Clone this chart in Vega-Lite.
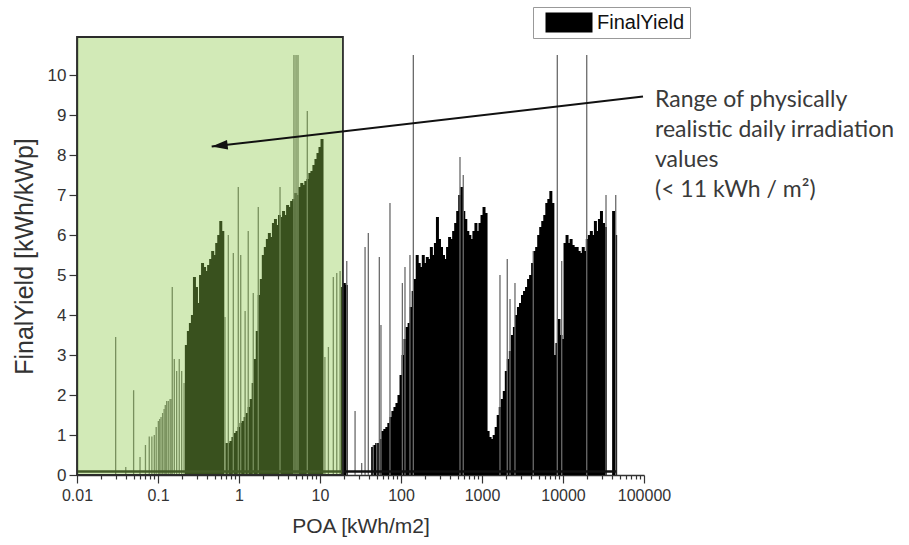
{
  "$schema": "https://vega.github.io/schema/vega-lite/v6.json",
  "width": 567,
  "height": 438,
  "autosize": {"type": "none"},
  "padding": {"left": 77, "top": 37, "right": 265, "bottom": 70},
  "background": "white",
  "config": {"view": {"stroke": null}, "axis": {"grid": false}, "font": "Liberation Sans"},
  "datasets": {
    "dense": [
      {"poa":0.2239,"fy":3.25},{"poa":0.2371,"fy":3.6},{"poa":0.2512,"fy":3.8},{"poa":0.2661,"fy":4.0},{"poa":0.2818,"fy":4.95},{"poa":0.2985,"fy":4.7},{"poa":0.3162,"fy":4.3},{"poa":0.335,"fy":5.0},{"poa":0.3548,"fy":5.3},{"poa":0.3758,"fy":5.2},{"poa":0.3981,"fy":5.1},{"poa":0.4217,"fy":5.25},{"poa":0.4467,"fy":5.4},{"poa":0.4732,"fy":5.6},{"poa":0.5012,"fy":5.5},{"poa":0.5309,"fy":5.8},{"poa":0.5623,"fy":6.0},{"poa":0.5957,"fy":6.35},{"poa":0.631,"fy":6.1},
      {"poa":0.7079,"fy":0.8},{"poa":0.7499,"fy":0.8},{"poa":0.7943,"fy":0.85},{"poa":0.8414,"fy":0.95},{"poa":0.8913,"fy":1.05},{"poa":0.9441,"fy":1.1},{"poa":1.0,"fy":1.2},{"poa":1.059,"fy":1.3},{"poa":1.122,"fy":1.35},{"poa":1.189,"fy":1.45},{"poa":1.259,"fy":1.55},{"poa":1.334,"fy":1.7},{"poa":1.413,"fy":1.9},{"poa":1.496,"fy":2.3},{"poa":1.585,"fy":2.9},{"poa":1.679,"fy":3.6},{"poa":1.778,"fy":4.5},{"poa":1.884,"fy":4.9},{"poa":1.995,"fy":5.5},{"poa":2.113,"fy":5.7},{"poa":2.239,"fy":5.9},{"poa":2.371,"fy":6.05},{"poa":2.512,"fy":5.95},{"poa":2.661,"fy":6.3},{"poa":2.818,"fy":6.4},{"poa":2.985,"fy":6.25},{"poa":3.162,"fy":6.5},{"poa":3.35,"fy":6.45},{"poa":3.548,"fy":6.6},{"poa":3.758,"fy":6.5},{"poa":3.981,"fy":6.75},{"poa":4.217,"fy":6.7},{"poa":4.467,"fy":6.85},{"poa":4.732,"fy":6.9},{"poa":5.012,"fy":7.05},{"poa":5.309,"fy":7.0},{"poa":5.623,"fy":7.2},{"poa":5.957,"fy":7.3},{"poa":6.31,"fy":7.25},{"poa":6.683,"fy":7.35},{"poa":7.079,"fy":7.4},{"poa":7.499,"fy":7.55},{"poa":7.943,"fy":7.6},{"poa":8.414,"fy":7.75},{"poa":8.913,"fy":7.9},{"poa":9.441,"fy":8.05},{"poa":10.0,"fy":8.2},{"poa":10.59,"fy":8.4},
      {"poa":18.84,"fy":4.7},{"poa":19.95,"fy":4.8},{"poa":21.13,"fy":4.75},
      {"poa":44.67,"fy":0.7},{"poa":47.32,"fy":0.75},{"poa":50.12,"fy":0.8},{"poa":53.09,"fy":0.8},{"poa":56.23,"fy":0.9},{"poa":59.57,"fy":1.1},{"poa":63.1,"fy":1.15},{"poa":66.83,"fy":1.2},{"poa":70.79,"fy":1.3},{"poa":74.99,"fy":1.45},{"poa":79.43,"fy":1.6},{"poa":84.14,"fy":1.7},{"poa":89.13,"fy":1.8},{"poa":94.41,"fy":2.0},{"poa":100,"fy":2.5},{"poa":105.9,"fy":3.0},{"poa":112.2,"fy":3.4},{"poa":118.9,"fy":3.7},{"poa":125.9,"fy":3.8},{"poa":133.4,"fy":4.2},{"poa":141.3,"fy":4.6},{"poa":149.6,"fy":4.9},{"poa":158.5,"fy":5.5},{"poa":167.9,"fy":5.3},{"poa":177.8,"fy":5.2},{"poa":188.4,"fy":5.5},{"poa":199.5,"fy":5.3},{"poa":211.3,"fy":5.45},{"poa":223.9,"fy":5.4},{"poa":237.1,"fy":5.7},{"poa":251.2,"fy":5.5},{"poa":266.1,"fy":5.8},{"poa":281.8,"fy":6.45},{"poa":298.5,"fy":5.9},{"poa":316.2,"fy":5.7},{"poa":335,"fy":5.5},{"poa":354.8,"fy":5.4},{"poa":375.8,"fy":5.7},{"poa":398.1,"fy":5.95},{"poa":421.7,"fy":5.9},{"poa":446.7,"fy":6.1},{"poa":473.2,"fy":6.3},{"poa":501.2,"fy":6.6},{"poa":530.9,"fy":7.0},{"poa":562.3,"fy":7.2},{"poa":595.7,"fy":6.6},{"poa":631,"fy":6.4},{"poa":668.3,"fy":6.1},{"poa":707.9,"fy":6.0},{"poa":749.9,"fy":5.9},{"poa":794.3,"fy":6.1},{"poa":841.4,"fy":6.3},{"poa":891.3,"fy":6.1},{"poa":944.1,"fy":6.3},{"poa":1000,"fy":6.5},{"poa":1059,"fy":6.7},{"poa":1122,"fy":6.55},
      {"poa":1189,"fy":1.1},{"poa":1259,"fy":0.95},{"poa":1334,"fy":0.9},{"poa":1413,"fy":1.0},{"poa":1496,"fy":1.2},{"poa":1585,"fy":1.5},{"poa":1679,"fy":1.7},{"poa":1778,"fy":1.9},{"poa":1884,"fy":2.1},{"poa":1995,"fy":2.6},{"poa":2113,"fy":2.9},{"poa":2239,"fy":3.1},{"poa":2371,"fy":3.5},{"poa":2512,"fy":3.7},{"poa":2661,"fy":4.0},{"poa":2818,"fy":4.2},{"poa":2985,"fy":4.3},{"poa":3162,"fy":4.5},{"poa":3350,"fy":4.6},{"poa":3548,"fy":4.7},{"poa":3758,"fy":4.9},{"poa":3981,"fy":5.0},{"poa":4217,"fy":5.3},{"poa":4467,"fy":5.6},{"poa":4732,"fy":5.7},{"poa":5012,"fy":6.0},{"poa":5309,"fy":6.2},{"poa":5623,"fy":6.35},{"poa":5957,"fy":6.5},{"poa":6310,"fy":6.8},{"poa":6683,"fy":6.9},{"poa":7079,"fy":7.1},{"poa":7499,"fy":6.8},{"poa":7943,"fy":3.0},{"poa":8414,"fy":3.3},{"poa":8913,"fy":3.9},{"poa":9441,"fy":3.5},{"poa":10000,"fy":3.4},{"poa":10590,"fy":5.8},{"poa":11220,"fy":6.0},{"poa":11890,"fy":5.8},{"poa":12590,"fy":5.9},{"poa":13340,"fy":5.75},{"poa":14130,"fy":5.7},{"poa":14960,"fy":5.7},{"poa":15850,"fy":5.6},{"poa":16790,"fy":5.55},{"poa":17780,"fy":5.7},{"poa":18840,"fy":5.6},{"poa":19950,"fy":5.9},{"poa":21130,"fy":6.0},{"poa":22390,"fy":6.1},{"poa":23710,"fy":6.0},{"poa":25120,"fy":6.35},{"poa":26610,"fy":6.1},{"poa":28180,"fy":6.4},{"poa":29850,"fy":6.6},{"poa":31620,"fy":6.3},{"poa":33500,"fy":6.2},{"poa":42170,"fy":6.6},{"poa":44670,"fy":6.0}
    ],
    "spikes": [
      {"poa":0.030,"fy":3.45},{"poa":0.040,"fy":0.2},{"poa":0.050,"fy":2.12},{"poa":0.060,"fy":0.45},{"poa":0.070,"fy":0.75},{"poa":0.078,"fy":0.96},{"poa":0.084,"fy":0.96},{"poa":0.090,"fy":1.0},{"poa":0.095,"fy":1.2},{"poa":0.101,"fy":1.35},{"poa":0.105,"fy":1.4},{"poa":0.109,"fy":1.45},{"poa":0.114,"fy":1.55},{"poa":0.119,"fy":1.65},{"poa":0.123,"fy":1.75},{"poa":0.128,"fy":1.85},{"poa":0.134,"fy":1.85},{"poa":0.141,"fy":1.9},{"poa":0.145,"fy":1.9},{"poa":0.150,"fy":4.7},{"poa":0.159,"fy":2.9},{"poa":0.170,"fy":2.6},{"poa":0.183,"fy":2.9},{"poa":0.196,"fy":2.6},{"poa":0.210,"fy":2.3},
      {"poa":0.671,"fy":3.95},{"poa":0.738,"fy":6.0},{"poa":0.851,"fy":5.55},{"poa":0.980,"fy":7.2},{"poa":1.05,"fy":5.5},{"poa":1.19,"fy":4.1},{"poa":1.30,"fy":6.1},{"poa":1.50,"fy":4.55},{"poa":1.73,"fy":6.7},{"poa":3.21,"fy":7.2},{"poa":4.77,"fy":10.5},{"poa":5.06,"fy":10.5},{"poa":5.35,"fy":10.5},{"poa":6.97,"fy":9.1},
      {"poa":11.5,"fy":2.95},{"poa":12.7,"fy":3.2},{"poa":14.6,"fy":4.95},{"poa":16.1,"fy":5.05},{"poa":17.7,"fy":5.1},
      {"poa":21.4,"fy":5.35},{"poa":27.1,"fy":1.6},{"poa":32.7,"fy":0.3},{"poa":36.0,"fy":5.7},{"poa":39.5,"fy":6.05},{"poa":45.5,"fy":0.75},{"poa":50.1,"fy":0.8},{"poa":54.0,"fy":5.45},{"poa":56.6,"fy":3.75},{"poa":73.1,"fy":6.8},{"poa":104,"fy":4.8},{"poa":112,"fy":5.2},{"poa":129,"fy":5.5},{"poa":142,"fy":10.5},{"poa":535,"fy":7.95},{"poa":587,"fy":7.5},{"poa":1667,"fy":5.0},{"poa":2051,"fy":5.4},{"poa":2218,"fy":4.4},{"poa":2553,"fy":4.8},{"poa":4295,"fy":5.6},{"poa":8505,"fy":10.5},{"poa":9638,"fy":5.35},{"poa":19630,"fy":10.5},{"poa":33960,"fy":7.0},{"poa":44770,"fy":7.0}
    ],
    "baseline": [{"poa":0.0102,"poa2":45000,"fy":0.09}],
    "zone": [{"poa":0.01,"poa2":19.2,"fy":0,"fy2":10.95}],
    "arrow": [{"poa":0.46,"fy":8.21,"poa2":97200,"fy2":9.46}],
    "note": [{"poa":136700,"fy":9.21,"lines":["Range of physically","realistic daily irradiation","values","(< 11 kWh / m²)"]}]
  },
  "encoding": {
    "x": {
      "field": "poa", "type": "quantitative",
      "scale": {"type": "log", "domain": [0.01, 100000], "nice": false},
      "title": "POA [kWh/m2]",
      "axis": {
        "values": [0.01,0.02,0.03,0.04,0.05,0.06,0.07,0.08,0.09,0.1,0.2,0.3,0.4,0.5,0.6,0.7,0.8,0.9,1,2,3,4,5,6,7,8,9,10,20,30,40,50,60,70,80,90,100,200,300,400,500,600,700,800,900,1000,2000,3000,4000,5000,6000,7000,8000,9000,10000,20000,30000,40000,50000,60000,70000,80000,90000,100000],
        "format": "~g",
        "labelExpr": "indexof([0.01,0.1,1,10,100,1000,10000,100000], datum.value) >= 0 ? datum.label : ''",
        "labelFlush": false,
        "labelOverlap": false,
        "tickSize": {"condition": {"test": "indexof([0.01,0.1,1,10,100,1000,10000,100000], datum.value) >= 0", "value": 8}, "value": 4},
        "tickColor": "#333", "tickWidth": 1.2,
        "domainColor": "#333", "domainWidth": 1.5,
        "labelFont": "Liberation Sans", "labelFontSize": 16, "labelColor": "#333", "labelPadding": 4,
        "titleFont": "Liberation Sans", "titleFontSize": 21, "titleFontWeight": "normal", "titleColor": "#333", "titlePadding": 12
      }
    },
    "y": {
      "field": "fy", "type": "quantitative",
      "scale": {"domain": [0, 10.95], "nice": false, "zero": false},
      "title": "FinalYield [kWh/kWp]",
      "axis": {
        "values": [0,1,2,3,4,5,6,7,8,9,10],
        "tickSize": 8, "tickColor": "#333", "tickWidth": 1.2,
        "domainColor": "#333", "domainWidth": 1.5,
        "labelFont": "Liberation Sans", "labelFontSize": 17, "labelColor": "#333", "labelPadding": 3,
        "titleFont": "Liberation Sans", "titleFontSize": 25, "titleFontWeight": "normal", "titleColor": "#333", "titlePadding": 10
      }
    }
  },
  "layer": [
    {
      "data": {"name": "dense"},
      "mark": {"type": "rule", "strokeWidth": 3},
      "encoding": {
        "y2": {"datum": 0},
        "color": {
          "datum": "FinalYield", "type": "nominal",
          "scale": {"range": ["#000000"]},
          "legend": {
            "title": null, "orient": "none", "legendX": 456, "legendY": -30,
            "symbolType": "M-2.35,0L2.35,0", "symbolSize": 400, "symbolStrokeWidth": 20, "symbolStrokeColor": "#000",
            "symbolOffset": 11, "clipHeight": 21,
            "labelFont": "Liberation Sans", "labelFontSize": 20, "labelColor": "#111", "labelOffset": 8,
            "padding": 5, "strokeColor": "#999", "fillColor": "#fff"
          }
        }
      }
    },
    {
      "data": {"name": "spikes"},
      "mark": {"type": "rule", "strokeWidth": 1.3, "color": "#6a6a6a"},
      "encoding": {"y2": {"datum": 0}}
    },
    {
      "data": {"name": "baseline"},
      "mark": {"type": "rule", "strokeWidth": 2.5, "color": "#111"},
      "encoding": {"x2": {"field": "poa2"}}
    },
    {
      "data": {"name": "zone"},
      "mark": {"type": "rect", "fill": "#8fca4a", "fillOpacity": 0.4, "stroke": "#2b2b2b", "strokeWidth": 1.8},
      "encoding": {"x2": {"field": "poa2"}, "y2": {"field": "fy2"}}
    },
    {
      "data": {"name": "arrow"},
      "mark": {"type": "rule", "strokeWidth": 2, "color": "#111"},
      "encoding": {"x2": {"field": "poa2"}, "y2": {"field": "fy2"}}
    },
    {
      "data": {"name": "arrow"},
      "mark": {"type": "point", "shape": "M0,0L1,-0.3L1,0.3Z", "size": 1024, "filled": true, "color": "#111", "opacity": 1, "angle": -6.6, "strokeWidth": 0}
    },
    {
      "data": {"name": "note"},
      "mark": {"type": "text", "align": "left", "baseline": "alphabetic", "font": "Lato", "fontSize": 23, "lineHeight": 30, "color": "#3a3a3a"},
      "encoding": {"text": {"field": "lines"}}
    }
  ]
}
